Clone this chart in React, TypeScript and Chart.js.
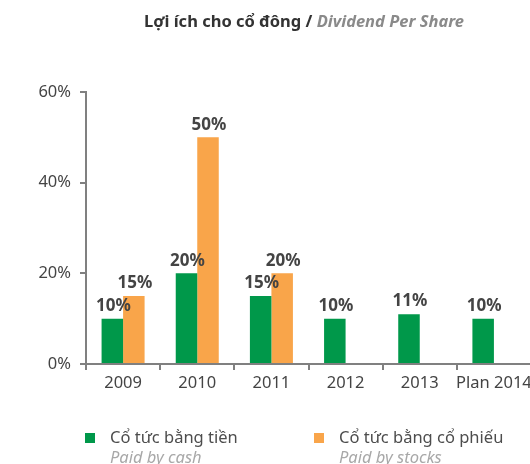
import React, { useEffect, useRef } from "react";
import { Chart, registerables } from "chart.js";

Chart.register(...registerables);

const categories = ["2009", "2010", "2011", "2012", "2013", "Plan 2014"];
const cashValues: (number | null)[] = [10, 20, 15, 10, 11, 10];
const stockValues: (number | null)[] = [15, 50, 20, null, null, null];
const yTicks = [0, 20, 40, 60];

const GREEN = "#00984A";
const ORANGE = "#F9A54A";
const AXIS = "#808080";
const TEXT = "#444444";
const FONT = "'Noto Sans', 'Open Sans', sans-serif";

const labelPlugin = {
  id: "barLabels",
  afterDatasetsDraw(chart: any) {
    const ctx = chart.ctx;
    ctx.save();
    ctx.font = `bold 17px ${FONT}`;
    ctx.fillStyle = TEXT;
    ctx.textAlign = "center";
    ctx.textBaseline = "bottom";
    chart.data.datasets.forEach((ds: any, di: number) => {
      const meta = chart.getDatasetMeta(di);
      meta.data.forEach((el: any, i: number) => {
        const v = ds.data[i];
        if (v === null || v === undefined) return;
        ctx.fillText(v + "%", el.x + 1, el.y - 4);
      });
    });
    ctx.restore();
  },
};

export default function App() {
  const ref = useRef<HTMLCanvasElement>(null);
  useEffect(() => {
    if (!ref.current) return;
    const chart = new Chart(ref.current, {
      type: "bar",
      data: {
        labels: categories,
        datasets: [
          { label: "Cổ tức bằng tiền", data: cashValues, backgroundColor: GREEN },
          { label: "Cổ tức bằng cổ phiếu", data: stockValues, backgroundColor: ORANGE },
        ],
      },
      options: {
        responsive: false,
        animation: false,
        layout: { padding: { top: 92, right: 9, left: 0, bottom: 0 } },
        plugins: { legend: { display: false }, title: { display: false }, tooltip: { enabled: false } },
        datasets: { bar: { categoryPercentage: 0.58, barPercentage: 1.0 } },
        scales: {
          x: {
            grid: { drawOnChartArea: false, drawTicks: true, tickLength: 6, color: AXIS, lineWidth: 2, offset: true },
            border: { display: true, color: AXIS, width: 2 },
            ticks: { color: TEXT, font: { family: FONT, size: 16.5 }, padding: 3, maxRotation: 0, minRotation: 0, autoSkip: false },
            afterFit: (axis: any) => { axis.height = 100; },
          },
          y: {
            min: 0,
            max: 60,
            afterBuildTicks: (axis: any) => { axis.ticks = yTicks.map((v) => ({ value: v })); },
            grid: { drawOnChartArea: false, drawTicks: true, tickLength: 6, color: AXIS, lineWidth: 2 },
            border: { display: true, color: AXIS, width: 2 },
            ticks: { color: TEXT, font: { family: FONT, size: 16.5 }, padding: 9, callback: (v: any) => v + "%" },
            afterFit: (axis: any) => { axis.width = 86; },
          },
        },
      },
      plugins: [labelPlugin],
    } as any);
    return () => chart.destroy();
  }, []);

  const legendItem = (left: number, color: string, main: string, sub: string) => (
    <div style={{ position: "absolute", left, top: 426, fontFamily: FONT }}>
      <div style={{ position: "absolute", left: 0, top: 7, width: 10, height: 10, background: color }} />
      <div style={{ position: "absolute", left: 25, top: 0, whiteSpace: "nowrap", fontSize: 16.5, color: "#4d4d4d", lineHeight: "22px" }}>{main}</div>
      <div style={{ position: "absolute", left: 25, top: 20, whiteSpace: "nowrap", fontSize: 16.5, fontStyle: "italic", color: "#a8a8a8", lineHeight: "22px" }}>{sub}</div>
    </div>
  );

  return (
    <div style={{ position: "fixed", left: 0, top: 0, width: 530, height: 464, overflow: "hidden", background: "#fff" }}>
      <canvas ref={ref} width={540} height={464} style={{ position: "absolute", left: 0, top: 0 }} />
      <div style={{ position: "absolute", left: 0, top: 9, width: 608, textAlign: "center", fontFamily: FONT, fontSize: 16.5, fontWeight: "bold", color: "#333", whiteSpace: "nowrap" }}>
        Lợi ích cho cổ đông / <span style={{ fontStyle: "italic", color: "#8a8a8a" }}>Dividend Per Share</span>
      </div>
      {legendItem(85, GREEN, "Cổ tức bằng tiền", "Paid by cash")}
      {legendItem(314, ORANGE, "Cổ tức bằng cổ phiếu", "Paid by stocks")}
    </div>
  );
}
